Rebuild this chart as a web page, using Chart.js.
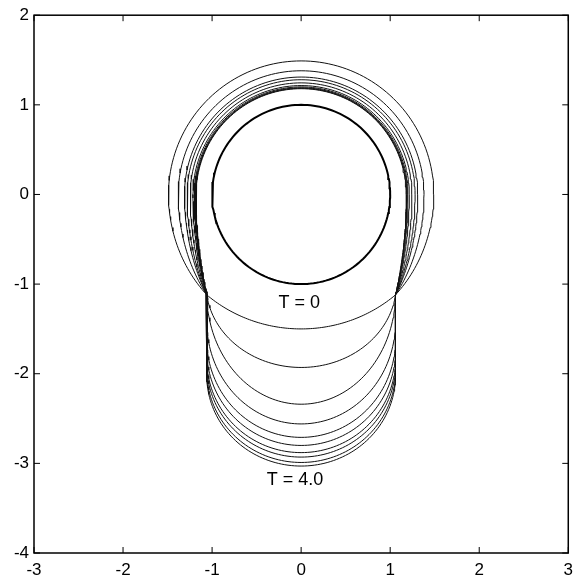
<!DOCTYPE html>
<html>
<head>
<meta charset="utf-8">
<script src="https://cdn.jsdelivr.net/npm/chart.js@4"></script>
<style>
  html, body { margin: 0; padding: 0; background: #fff; }
  #wrap { width: 580px; height: 585px; position: relative; }
</style>
</head>
<body>
<div id="wrap"><canvas id="chart"></canvas></div>
<script>
// axis ticks
const xTickValues = [-3, -2, -1, 0, 1, 2, 3];
const yTickValues = [-4, -3, -2, -1, 0, 1, 2];

// one outline per time step, T = 0 ... T = 4.0
const upperRadius = [1.49, 1.38, 1.31, 1.28, 1.245, 1.215, 1.2, 1.19, 1.185, 1.18];
const sideDepth   = [0, -1.0, -1.1, -1.42, -1.62, -1.74, -1.84, -1.90, -1.97, -2.02];
const bottomDepth = [-1.5, -1.93, -2.34, -2.56, -2.71, -2.80, -2.88, -2.93, -2.99, -3.03];
const neckX = 1.06;
const neckY = -1.12;

// the fixed cylinder
const obstacleRadius = 1.0;

// annotations
const labelTexts = ['T = 0', 'T = 4.0'];
const labelX = [-0.02, -0.07];
const labelY = [-1.21, -3.19];

function outline(k) {
    const R = upperRadius[k], c = sideDepth[k], bot = bottomDepth[k];
    const pts = [];
    const N = 90, M = 30;
    for (let i = 0; i <= N; i++) {
        const t = Math.PI * i / N;
        pts.push({x: R * Math.cos(t), y: R * Math.sin(t)});
    }
    const phiN = Math.acos(neckX / R);
    const v = -neckY / Math.sin(phiN);
    for (let i = 1; i <= M; i++) {
        const p = phiN * i / M;
        pts.push({x: -R * Math.cos(p), y: -v * Math.sin(p)});
    }
    const b = c - bot;
    let a = neckX, psi0 = 0;
    if (c < neckY) {
        pts.push({x: -neckX, y: c});
    } else {
        psi0 = Math.asin((c - neckY) / b);
        a = neckX / Math.cos(psi0);
    }
    for (let i = 1; i <= N; i++) {
        const s = psi0 + (Math.PI - 2 * psi0) * i / N;
        pts.push({x: -a * Math.cos(s), y: c - b * Math.sin(s)});
    }
    if (c < neckY) pts.push({x: neckX, y: neckY});
    for (let i = M - 1; i >= 0; i--) {
        const p = phiN * i / M;
        pts.push({x: R * Math.cos(p), y: -v * Math.sin(p)});
    }
    return pts;
}

function circle(r) {
    const pts = [];
    for (let i = 0; i <= 180; i++) {
        const t = 2 * Math.PI * i / 180;
        pts.push({x: r * Math.cos(t), y: r * Math.sin(t)});
    }
    return pts;
}

const datasets = upperRadius.map((_, k) => ({
    data: outline(k),
    showLine: true,
    pointRadius: 0,
    borderColor: '#111',
    borderWidth: 1,
    tension: 0
}));
datasets.push({
    data: circle(obstacleRadius),
    showLine: true,
    pointRadius: 0,
    borderColor: '#000',
    borderWidth: 2,
    tension: 0
});

const frame = {
    id: 'frame',
    afterDatasetsDraw(chart) {
        const {ctx, chartArea: a, scales: {x, y}} = chart;
        ctx.save();
        ctx.strokeStyle = '#000';
        ctx.lineWidth = 1.5;
        ctx.strokeRect(a.left, a.top, a.right - a.left, a.bottom - a.top);
        ctx.lineWidth = 1;
        ctx.beginPath();
        xTickValues.forEach(v => {
            const px = x.getPixelForValue(v);
            ctx.moveTo(px, a.bottom); ctx.lineTo(px, a.bottom - 6);
            ctx.moveTo(px, a.top); ctx.lineTo(px, a.top + 6);
        });
        yTickValues.forEach(v => {
            const py = y.getPixelForValue(v);
            ctx.moveTo(a.left, py); ctx.lineTo(a.left + 6, py);
            ctx.moveTo(a.right, py); ctx.lineTo(a.right - 6, py);
        });
        ctx.stroke();
        ctx.fillStyle = '#000';
        ctx.font = '18px "Liberation Sans", Arial, sans-serif';
        ctx.textAlign = 'center';
        ctx.textBaseline = 'middle';
        labelTexts.forEach((t, i) => {
            ctx.fillText(t, x.getPixelForValue(labelX[i]), y.getPixelForValue(labelY[i]));
        });
        ctx.restore();
    }
};

const tickFont = {family: '"Liberation Sans", Arial, sans-serif', size: 17};

new Chart(document.getElementById('chart'), {
    type: 'scatter',
    data: {datasets},
    options: {
        responsive: true,
        maintainAspectRatio: false,
        animation: false,
        layout: {padding: {left: 0, top: 11, right: 6, bottom: 0}},
        plugins: {legend: {display: false}, tooltip: {enabled: false}},
        scales: {
            x: {
                type: 'linear', min: -3, max: 3,
                afterBuildTicks: s => { s.ticks = xTickValues.map(v => ({value: v})); },
                afterFit: s => { s.height = 32; },
                grid: {display: false, drawTicks: false},
                border: {display: false},
                ticks: {color: '#000', font: tickFont, padding: 7, maxRotation: 0}
            },
            y: {
                type: 'linear', min: -4, max: 2,
                afterBuildTicks: s => { s.ticks = yTickValues.map(v => ({value: v})); },
                afterFit: s => { s.width = 34; },
                grid: {display: false, drawTicks: false},
                border: {display: false},
                ticks: {color: '#000', font: tickFont, padding: 5}
            }
        }
    },
    plugins: [frame]
});
</script>
</body>
</html>
